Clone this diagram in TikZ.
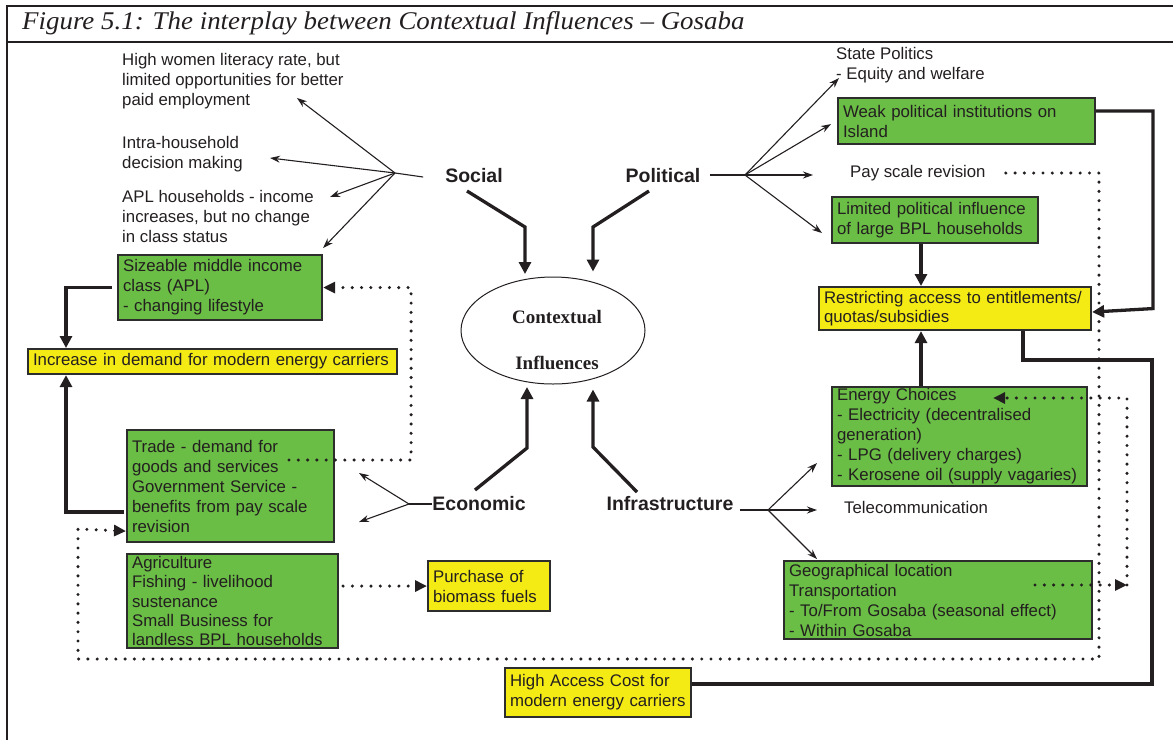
\documentclass[tikz,border=0pt]{standalone}
\usepackage{fontspec}
\setmainfont{Liberation Sans}
\newfontfamily\serifface{Liberation Serif}
\newfontfamily\titleface{Liberation Serif}[FakeStretch=1.055]
\usetikzlibrary{arrows.meta,shapes.geometric,calc}

\definecolor{grn}{RGB}{106,189,69}
\definecolor{ylw}{RGB}{245,235,20}
\definecolor{ink}{RGB}{35,31,32}
\definecolor{edge}{RGB}{45,45,45}

\tikzset{
  txt/.style={font=\fontsize{16.8}{20}\selectfont, text=ink, align=left, inner sep=0pt},
  box/.style={draw=edge, line width=2.1pt, align=left, inner xsep=5pt, inner ysep=0pt,
              font=\fontsize{16.8}{20}\selectfont, text=ink, anchor=north west},
  gbox/.style={box, fill=grn},
  ybox/.style={box, fill=ylw},
  lbl/.style={font=\bfseries\fontsize{19.5}{22}\selectfont, text=ink, inner sep=0pt},
  thkline/.style={line width=3.3pt, draw=ink},
  thk/.style={thkline, -{Triangle[length=12pt,width=12pt]}},
  fanline/.style={line width=1.1pt, draw=ink},
  fanarr/.style={fanline, -{Stealth[length=10pt,width=7pt]}},
  dots/.style={line width=3.4pt, draw=ink, dash pattern=on 0pt off 9.3pt, line cap=round},
  dotarr/.style={dots, -{Triangle[length=12pt,width=11pt]}}
}

\begin{document}
\begin{tikzpicture}[x=1pt,y=-1pt]
\useasboundingbox (0,0) rectangle (1173,740);

% frame and title band
\draw[line width=2.6pt, ink] (7,740) -- (7,6) -- (1173,6);
\draw[line width=2.6pt, ink] (7,42) -- (1173,42);
\node[anchor=west, inner sep=0pt, text=ink, font=\titleface\itshape\fontsize{25.5}{28}\selectfont] (title) at (22,23)
  {Figure 5.1: The interplay between Contextual Influences – Gosaba};

% central ellipse
\node[ellipse, draw=ink, line width=1pt, minimum width=184, minimum height=107, inner sep=0pt] (ctx) at (553,330.5) {};
\node[align=center, inner sep=0pt, text=ink, font=\serifface\bfseries\fontsize{19}{22}\selectfont] (ctxtext) at (557,340)
  {Contextual\\[24pt]Influences};

% the four influence labels
\node[lbl] (social) at (474,176) {Social};
\node[lbl] (political) at (663,176) {Political};
\node[lbl] (economic) at (479,504) {Economic};
\node[lbl] (infra) at (670,504) {Infrastructure};

% free text items
\node[txt, anchor=west] (lit) at (122,81) {High women literacy rate, but\\limited opportunities for better\\paid employment};
\node[txt, anchor=west] (intra) at (122,154) {Intra-household\\decision making};
\node[txt, anchor=west] (apl) at (122,216) {APL households - income\\increases, but no change\\in class status};
\node[txt, anchor=west] (state) at (836,65) {State Politics\\- Equity and welfare};
\node[txt, anchor=west] (pay) at (850,173) {Pay scale revision};
\node[txt, anchor=west] (tele) at (844,507) {Telecommunication};

% boxes, left side
\node[gbox, minimum width=204, minimum height=65, text width=194] (mid) at (117,254)
  {Sizeable middle income\\class (APL)\\- changing lifestyle};
\node[ybox, minimum width=369, minimum height=25, text width=359] (inc) at (27,348)
  {Increase in demand for modern energy carriers};
\node[gbox, minimum width=207, minimum height=112, text width=197] (trade) at (126,429)
  {Trade - demand for\\goods and services\\Government Service -\\benefits from pay scale\\revision};
\node[gbox, minimum width=211, minimum height=94, text width=201, font=\fontsize{16.8}{19.4}\selectfont] (agri) at (126,553)
  {Agriculture\\Fishing - livelihood\\sustenance\\Small Business for\\landless BPL households};
\node[ybox, minimum width=122, minimum height=50, text width=112] (purch) at (427,560)
  {Purchase of\\biomass fuels};
\node[ybox, minimum width=186, minimum height=49, text width=176] (high) at (504,667)
  {High Access Cost for\\modern energy carriers};

% boxes, right side
\node[gbox, minimum width=257, minimum height=46, text width=247] (weak) at (837,97)
  {Weak political institutions on\\Island};
\node[gbox, minimum width=206, minimum height=46, text width=196] (lim) at (831,196)
  {Limited political influence\\of large BPL households};
\node[ybox, minimum width=272, minimum height=43, text width=262, font=\fontsize{16.8}{18.5}\selectfont] (restr) at (818,286)
  {Restricting access to entitlements/\\quotas/subsidies};
\node[gbox, minimum width=255, minimum height=99, text width=245] (energy) at (831,386)
  {Energy Choices\\- Electricity (decentralised\\generation)\\- LPG (delivery charges)\\- Kerosene oil (supply vagaries)};
\node[gbox, minimum width=308, minimum height=78, text width=298] (geo) at (783,560)
  {Geographical location\\Transportation\\- To/From Gosaba (seasonal effect)\\- Within Gosaba};

% fan of the social influences (shifts are in page units: positive yshift is upward)
\coordinate (sf) at (395,173);
\coordinate (sf1) at (297,98);
\coordinate (sf2) at (270,158);
\coordinate (sf3) at (330,197);
\draw[fanline] ([xshift=-22pt,yshift=-1pt]social.west) -- (sf);
\draw[fanarr] (sf) -- (sf1);
\draw[fanarr] (sf) -- (sf2);
\draw[fanarr] (sf) -- (sf3);
\draw[fanarr] (sf) -- ([yshift=6pt]mid.north east);

% fan of the political influences
\coordinate (pf) at (745,175);
\coordinate (pf1) at (839,78);
\coordinate (pf3) at (813,175);
\draw[fanline] ([xshift=9pt,yshift=1pt]political.east) -- (pf);
\draw[fanarr] (pf) -- (pf1);
\draw[fanarr] (pf) -- ([xshift=-6pt,yshift=-3pt]weak.west);
\draw[fanarr] (pf) -- (pf3);
\draw[fanarr] (pf) -- ([xshift=-9pt,yshift=-13pt]lim.west);

% fan of the economic influences
\coordinate (ef) at (409,504);
\coordinate (ef1) at (359,473);
\coordinate (ef2) at (359,522);
\draw[fanline] (economic.west) -- (ef);
\draw[fanarr] (ef) -- (ef1);
\draw[fanarr] (ef) -- (ef2);

% fan of the infrastructure influences
\coordinate (nf) at (768,510);
\coordinate (nf2) at (817,510);
\draw[fanline] ([xshift=6pt,yshift=-6pt]infra.east) -- (nf);
\draw[fanarr] (nf) -- ([xshift=-14pt,yshift=24pt]energy.south west);
\draw[fanarr] (nf) -- (nf2);
\draw[fanarr] (nf) -- ([xshift=34pt,yshift=1pt]geo.north west);

% thick connectors into the ellipse
\coordinate (s1) at (467,191);
\coordinate (s2) at (525,227);
\coordinate (p1) at (649,191);
\coordinate (p2) at (593,227);
\coordinate (e1) at (475,490);
\coordinate (e2) at (527,448);
\coordinate (i1) at (637,492);
\coordinate (i2) at (593,447);
\draw[thk, shorten >=2.5pt] (s1) -- (s2) -- (s2 |- ctx.north);
\draw[thk, shorten >=5pt] (p1) -- (p2) -- (p2 |- ctx.north);
\draw[thk, shorten >=2.5pt] (e1) -- (e2) -- (e2 |- ctx.south);
\draw[thk, shorten >=5pt] (i1) -- (i2) -- (i2 |- ctx.south);

% thick connectors on the left
\draw[thk] ([xshift=-5pt]mid.west) -| ($(inc.north west)+(39,0)$);
\draw[thk] ($(trade.south west)+(-2,-31)$) -| ($(inc.south west)+(39,0)$);

% thick connectors on the right
\coordinate (rbus) at (1153,0);
\coordinate (rbus2) at (1152,360);
\draw[thk] ($(lim.south west)+(90,0)$) -- ($(restr.north west)+(103,0)$);
\draw[thk] ($(energy.north west)+(90,0)$) -- ($(restr.south west)+(103,0)$);
\draw[thk] ($(weak.north east)+(0,14)$) -| (rbus |- restr.east) -- ($(restr.east)+(0,3.5)$);
\draw[thkline] ($(restr.south west)+(205,0)$) |- (rbus2) |- ($(high.north east)+(0,17)$);

% dotted links
\coordinate (tradeout) at (289,460);
\draw[dotarr] (tradeout) -| ($(mid.east)+(88,0)$) -- (mid.east);
\draw[dotarr, shorten <=4pt] (agri.east |- purch.west) -- (purch.west);
\coordinate (botR) at (1099,659);
\coordinate (botL) at (78,529);
\draw[dotarr] ([xshift=20pt]pay.east) -| (botR) -| (botL) -- ($(trade.south west)+(0,-12)$);
\coordinate (geoout) at (1035,585);
\coordinate (gbus) at (1127,585);
\draw[dotarr] (geoout) -- (gbus);
\draw[dotarr] (gbus) |- ($(energy.north east)+(-95,12)$);

\end{tikzpicture}
\end{document}
